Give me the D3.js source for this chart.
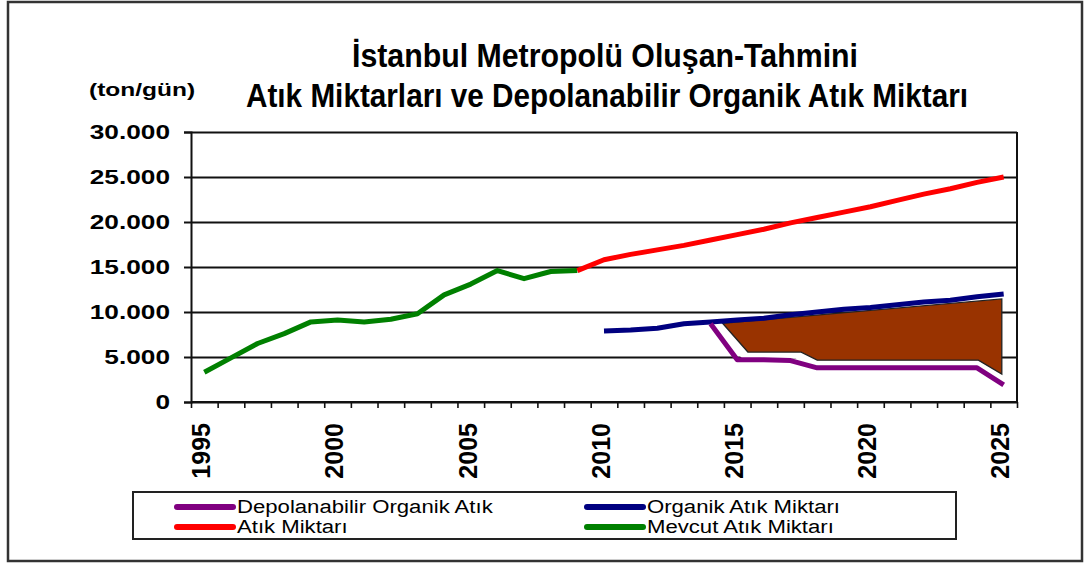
<!DOCTYPE html>
<html>
<head>
<meta charset="utf-8">
<script src="https://cdn.jsdelivr.net/npm/d3@7"></script>
<style>
  html, body { margin: 0; padding: 0; background: #fff; }
  svg { display: block; font-family: "Liberation Sans", Arial, sans-serif; }
</style>
</head>
<body>
<svg id="chart" width="1086" height="563"></svg>
<script>
// ---------- DATA ----------
const categories = ["1995","1996","1997","1998","1999","2000","2001","2002","2003","2004",
  "2005","2006","2007","2008","2009","2010","2011","2012","2013","2014","2015","2016",
  "2017","2018","2019","2020","2021","2022","2023","2024","2025"];

// Mevcut Atık Miktarı (green), 1995-2009
const mevcutValues = [3300, 4900, 6500, 7600, 8900, 9100, 8900, 9200, 9800, 11900,
  13100, 14600, 13700, 14500, 14600, null, null, null, null, null, null, null,
  null, null, null, null, null, null, null, null, null];

// Atık Miktarı (red), 2009-2025
const atikValues = [null, null, null, null, null, null, null, null, null, null,
  null, null, null, null, 14600, 15800, 16400, 16900, 17400, 18000, 18600, 19200,
  19900, 20500, 21100, 21700, 22400, 23100, 23700, 24400, 25000];

// Organik Atık Miktarı (navy), 2010-2025
const organikValues = [null, null, null, null, null, null, null, null, null, null,
  null, null, null, null, null, 7900, 8000, 8200, 8700, 8900, 9100, 9300,
  9700, 10000, 10300, 10500, 10800, 11100, 11300, 11700, 12000];

// Depolanabilir Organik Atık (purple), 2014-2025
const depolanabilirValues = [null, null, null, null, null, null, null, null, null, null,
  null, null, null, null, null, null, null, null, null, 8700, 4700, 4700,
  4600, 3800, 3800, 3800, 3800, 3800, 3800, 3800, 1900];

// brown shaded shape (year position, value)
const shapeYears  = [2014.45, 2024.93, 2024.93, 2024.05, 2018.0, 2017.4, 2015.4];
const shapeValues = [8750, 11450, 3100, 4650, 4650, 5550, 5550];

const yTickValues = [0, 5000, 10000, 15000, 20000, 25000, 30000];
const yTickLabels = ["0", "5.000", "10.000", "15.000", "20.000", "25.000", "30.000"];
const xLabelValues = ["1995", "2000", "2005", "2010", "2015", "2020", "2025"];

const titleLines = ["İstanbul Metropolü Oluşan-Tahmini",
                    "Atık Miktarları ve Depolanabilir Organik Atık Miktarı"];
const unitLabel = "(ton/gün)";

const seriesNames  = ["Depolanabilir Organik Atık", "Organik Atık Miktarı", "Atık Miktarı", "Mevcut Atık Miktarı"];
const seriesColors = ["#800080", "#000080", "#FF0000", "#008000"];

// ---------- CHART ----------
const svg = d3.select("#chart");
const L = 191, R = 1017, T = 132, B = 402;

const x = d3.scaleBand().domain(categories).range([L, R]).padding(0);
const xc = c => x(c) + x.bandwidth() / 2;
const xLin = d3.scaleLinear().domain([+categories[0], +categories[categories.length - 1]])
  .range([xc(categories[0]), xc(categories[categories.length - 1])]);
const y = d3.scaleLinear().domain([0, 30000]).range([B, T]);

// outer border
svg.append("rect").attr("x", 8).attr("y", 2).attr("width", 1074).attr("height", 559)
  .attr("fill", "#fff").attr("stroke", "#333").attr("stroke-width", 2.5);

// gridlines
svg.append("g").attr("transform", `translate(${L},0)`)
  .call(d3.axisLeft(y).tickValues(yTickValues).tickSize(-(R - L)).tickFormat(""))
  .call(g => g.select(".domain").remove())
  .call(g => g.selectAll("line").attr("stroke", "#111").attr("stroke-width", 2));

// brown shape (white shadow first)
const shapePts = shapeYears.map((yr, i) => [xLin(yr), y(shapeValues[i])]);
const poly = d3.line();
svg.append("path").attr("d", poly(shapePts) + "Z")
  .attr("transform", "translate(-5,5)")
  .attr("fill", "#fff").attr("stroke", "#fff").attr("stroke-width", 3);
svg.append("path").attr("d", poly(shapePts) + "Z")
  .attr("fill", "#993300").attr("stroke", "#222").attr("stroke-width", 1.3);

// lines
const line = d3.line()
  .defined(d => d.v != null)
  .x(d => xc(d.c)).y(d => y(d.v));
const series = [
  {vals: mevcutValues, color: seriesColors[3]},
  {vals: atikValues, color: seriesColors[2]},
  {vals: organikValues, color: seriesColors[1]},
  {vals: depolanabilirValues, color: seriesColors[0]}
];
series.forEach(s => {
  svg.append("path")
    .datum(categories.map((c, i) => ({c, v: s.vals[i]})))
    .attr("d", line)
    .attr("fill", "none").attr("stroke", s.color)
    .attr("stroke-width", 5).attr("stroke-linejoin", "round");
});

// axes frame
svg.append("line").attr("x1", R).attr("x2", R).attr("y1", T).attr("y2", B)
  .attr("stroke", "#111").attr("stroke-width", 2);

const yAxis = svg.append("g").attr("transform", `translate(${L},0)`)
  .call(d3.axisLeft(y).tickValues(yTickValues).tickSize(7).tickFormat(""));
yAxis.selectAll("line").attr("stroke", "#111").attr("stroke-width", 2);
yAxis.select(".domain").attr("stroke", "#111").attr("stroke-width", 2);

const bounds = d3.range(categories.length + 1).map(i => +categories[0] - 0.5 + i);
const xAxis = svg.append("g").attr("transform", `translate(0,${B})`)
  .call(d3.axisBottom(xLin).tickValues(bounds).tickSize(6).tickSizeOuter(0).tickFormat(""));
xAxis.select(".domain").attr("d", `M${L},0H${R}`).attr("stroke", "#111").attr("stroke-width", 2);
xAxis.selectAll(".tick line").attr("stroke", "#111").attr("stroke-width", 1.6);

// y tick labels
yTickValues.forEach((v, i) => {
  svg.append("text")
    .attr("transform", `translate(170,${y(v)}) scale(1.25,1)`)
    .attr("dy", "0.35em")
    .attr("text-anchor", "end")
    .attr("font-size", 21).attr("font-weight", "bold")
    .text(yTickLabels[i]);
});

// x labels
xLabelValues.forEach(c => {
  svg.append("text")
    .attr("transform", `translate(${xc(c) - 3},423) rotate(-90)`)
    .attr("dy", "0.35em")
    .attr("text-anchor", "end")
    .attr("font-size", 25).attr("font-weight", "bold")
    .text(c);
});

// unit label
svg.append("text")
  .attr("transform", "translate(89,96) scale(1.29,1)")
  .attr("font-size", 19).attr("font-weight", "bold")
  .text(unitLabel);

// title
svg.append("text").attr("x", 352).attr("y", 67)
  .attr("font-size", 33).attr("font-weight", "bold")
  .attr("textLength", 506).attr("lengthAdjust", "spacingAndGlyphs")
  .text(titleLines[0]);
svg.append("text").attr("x", 246).attr("y", 107)
  .attr("font-size", 33).attr("font-weight", "bold")
  .attr("textLength", 722).attr("lengthAdjust", "spacingAndGlyphs")
  .text(titleLines[1]);

// legend
svg.append("rect").attr("x", 133).attr("y", 492).attr("width", 823).attr("height", 47)
  .attr("fill", "none").attr("stroke", "#222").attr("stroke-width", 2);
const legPos = [[177, 507], [587, 507], [177, 527], [587, 527]];
seriesNames.forEach((name, i) => {
  const [lx, ly] = legPos[i];
  svg.append("line").attr("x1", lx).attr("x2", lx + 56).attr("y1", ly).attr("y2", ly)
    .attr("stroke", seriesColors[i]).attr("stroke-width", 6).attr("stroke-linecap", "round");
  svg.append("text")
    .attr("transform", `translate(${lx + 60},${ly + 6}) scale(1.23,1)`)
    .attr("font-size", 18)
    .text(name);
});
</script>
</body>
</html>
